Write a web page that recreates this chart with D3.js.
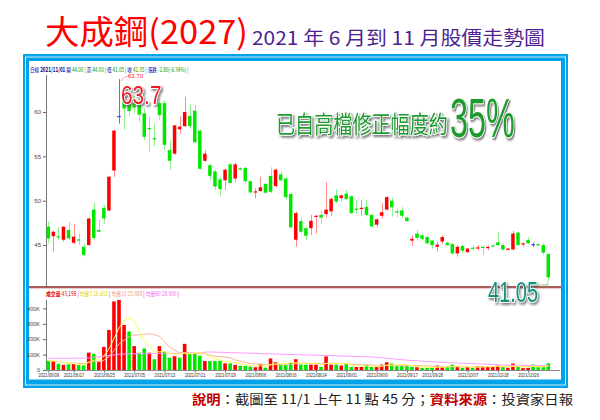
<!DOCTYPE html>
<html><head><meta charset="utf-8">
<script src="https://cdn.jsdelivr.net/npm/d3@7"></script>
<style>html,body{margin:0;padding:0;background:#fff;} svg{display:block;}</style>
</head><body><svg id="c" width="600" height="420"></svg>
<script>
// ---------- data ----------
const opens = [47.07,46.0,46.0,45.6,46.7,45.26,45.64,44.8,45.0,49.0, 46.7,49.2,48.9,53.4,59.55,61.4,60.9,61.0,60.9,59.85, 58.2,57.05,61.0,61.0,55.7,55.3,58.05,58.4,59.55,60.15, 57.9,54.5,54.0,53.3,52.4,52.3,54.1,52.5,53.65,53.7, 52.2,51.0,51.1,51.9,52.8,51.65,52.97,52.5,50.75,45.6, 47.7,46.9,46.9,48.2,48.4,48.5,48.8,50.6,50.3,50.8, 50.5,49.1,49.1,49.3,48.4,47.3,48.3,49.0,50.0,48.8, 48.9,48.1,45.5,46.3,46.1,45.9,45.5,44.8,45.4,45.26, 45.1,44.06,44.9,44.2,44.7,44.6,44.8,44.65,44.96,45.3, 45.0,44.5,44.5,46.4,45.1,45.56,45.1,45.1,45.0,44.0];
const highs = [47.63,46.6,47.1,47.1,47.6,47.4,46.3,45.2,48.1,49.8, 47.9,49.5,52.8,58.0,63.7,62.5,61.4,61.8,61.4,60.4, 59.5,58.7,61.5,61.35,56.8,58.5,59.5,61.7,60.8,60.8, 58.0,55.7,54.2,53.5,52.7,53.65,54.3,54.3,53.75,53.85, 52.3,51.4,52.7,52.0,53.76,53.6,53.3,52.7,50.85,48.8, 48.1,47.1,48.4,48.4,48.9,52.1,50.4,51.3,50.7,51.2, 50.6,50.1,50.1,50.1,48.5,48.0,49.7,50.5,50.3,49.1, 49.3,48.2,46.1,46.7,46.3,46.1,45.6,45.3,46.1,45.4, 45.2,45.0,45.0,44.7,44.9,45.0,44.9,45.0,45.1,46.5, 45.2,44.7,46.6,46.5,45.3,45.9,45.3,45.15,45.2,44.0];
const lows = [45.19,44.25,45.55,45.4,45.55,45.1,45.0,43.7,44.9,45.6, 46.4,47.4,48.8,52.7,58.7,58.0,59.5,59.9,58.9,56.8, 55.5,56.1,59.1,55.7,53.5,55.2,57.5,58.3,58.1,56.5, 53.5,54.4,52.3,51.2,50.45,51.2,51.95,52.1,53.4,51.95, 50.8,50.26,51.0,50.8,50.85,51.5,52.1,50.15,46.9,44.8, 46.3,45.56,46.1,46.3,47.4,48.1,48.25,49.7,49.9,50.1, 48.5,48.5,48.3,48.2,47.0,47.0,48.0,48.9,48.2,48.2, 48.0,47.6,44.9,45.5,45.5,45.1,44.6,44.3,45.1,44.9, 43.9,43.7,44.1,44.1,44.5,44.4,43.9,44.4,44.8,44.9, 44.35,44.4,44.4,44.9,44.8,45.1,44.8,44.9,43.9,41.05];
const closes = [45.75,46.5,45.95,47.07,45.75,45.94,45.5,43.9,48.0,45.8, 46.5,48.0,52.7,57.9,59.55,60.4,60.1,60.5,59.7,57.2, 58.15,57.0,59.66,56.3,54.5,58.5,58.35,60.0,58.4,56.6, 53.6,55.3,52.8,51.6,51.3,53.5,52.0,54.1,53.5,52.2, 50.94,51.05,51.5,50.9,51.0,53.5,52.3,50.4,47.0,48.6, 46.5,46.05,47.74,48.3,48.1,49.0,50.2,49.9,50.6,50.2, 48.6,49.0,49.2,48.4,47.1,47.9,48.7,50.4,49.25,48.7, 48.3,47.7,45.7,45.8,45.7,45.2,45.0,45.05,45.9,45.0, 44.06,44.8,44.36,44.6,44.58,44.74,44.75,44.78,44.9,45.0, 44.5,44.6,46.3,45.0,45.2,45.2,45.1,45.0,44.15,41.35];
// volume in thousands
const volumes = [60,58,40,33,37,38,33,30,113,105, 54,150,260,445,455,292,250,155,112,140, 112,70,155,120,80,90,80,170,104,108, 93,58,58,58,60,43,43,33,27,27, 22,18,40,15,75,50,33,33,48,70, 35,35,35,35,20,88,35,35,29,42, 20,20,20,31,20,20,35,50,42,25, 25,25,20,18,14,14,14,29,20,25, 35,20,14,18,14,25,25,25,20,29, 20,14,42,20,12,14,35,20,20,43.2];
// 60-day average volume line as drawn
const ma60 = [76,76,76,76,76,77,77,77,78,82, 86,90,94,98,102,104,105,105,106,106, 106,107,107,107,108,108,108,109,109,110, 110,116,117,116,115,114,113,112,111,110, 109,108,107,106,105,104,103,102,101,100, 99,98,97,96,95,94,93,92,91,90, 89,88,87,86,85,82,79,76,73,70, 67,64,62,60,58,56,54,52,50,48, 47,45,44,43,41,40,38,37,35,34, 32,31,31,30,30,29,29,29,29,28.9];
const tickLabels = ["2021/06/09","2021/06/17","2021/06/25","2021/07/05","2021/07/13","2021/07/21","2021/07/29","2021/08/06","2021/08/16","2021/08/24","2021/09/01","2021/09/09","2021/09/17","2021/09/28","2021/10/07","2021/10/18","2021/10/26"];
const tickIndex = [0,5,11,17,23,29,35,41,47,53,59,65,71,76,83,89,95];
const priceTicks = [45,50,55,60];
const volTicks = [0,100,200,300,400];

// ---------- drawing ----------
const svg = d3.select("#c");
const defs = svg.append("defs");
const f = defs.append("filter").attr("id","sh").attr("x","-10%").attr("y","-20%").attr("width","130%").attr("height","150%");
f.append("feDropShadow").attr("dx",2).attr("dy",2).attr("stdDeviation",1.2).attr("flood-color","#555").attr("flood-opacity",0.75);

const CJK = "'Noto Sans CJK TC','Noto Sans CJK SC',sans-serif";
const LAT = "'Liberation Sans',Arial,sans-serif";

// titles
svg.append("text").attr("x",45).attr("y",44).attr("font-family",CJK).attr("font-size",33)
  .attr("fill","#ff0000").attr("textLength",203).attr("lengthAdjust","spacingAndGlyphs").text("大成鋼(2027)");
svg.append("text").attr("x",252).attr("y",45).attr("font-family",CJK).attr("font-size",19)
  .attr("fill","#4e1f8f").attr("textLength",293).attr("lengthAdjust","spacingAndGlyphs").text("2021 年 6 月到 11 月股價走勢圖");

// frame
svg.append("rect").attr("x",23).attr("y",54).attr("width",545).attr("height",334).attr("fill","#00a3e8");
svg.append("rect").attr("x",25.5).attr("y",57).attr("width",540).attr("height",328).attr("fill","none").attr("stroke","#ffffff").attr("stroke-width",0.8);
svg.append("rect").attr("x",29).attr("y",61).attr("width",532).attr("height",318.5).attr("fill","#ffffff");

// scales
const x = d3.scaleLinear().domain([0, closes.length-1]).range([48.3, 548.3]);
const yP = d3.scaleLinear().domain([40.27, 65.75]).range([287, 61]);
const yV = d3.scaleLinear().domain([0, 400]).range([370, 308.4]);

// top info line (horizontally condensed)
const info = svg.append("g").attr("transform","translate(30,71.5) scale(0.74,1)")
  .append("text").attr("x",0).attr("y",0).attr("font-family",CJK).attr("font-size",6.2);
const infoParts = [["日線  ","#0000dd"],["2021/11/01 ","#000080"],["開 ","#0000aa"],["44.00 | ","#009a00"],["高 ","#0000aa"],["44.00 | ","#009a00"],["低 ","#0000aa"],["41.05 | ","#009a00"],["收 ","#0000aa"],["41.35 | ","#009a00"],["漲跌 ","#0000aa"],["-2.80(-6.34%) |","#009a00"]];
infoParts.forEach(p => info.append("tspan").attr("fill",p[1]).attr("font-weight", p[1]==="#000080"?"bold":"normal").text(p[0]));

// price axis
const pAx = svg.append("g").attr("transform","translate(46,0)")
  .call(d3.axisLeft(yP).tickValues(priceTicks).tickSize(3).tickFormat(d3.format("d")));
pAx.select(".domain").remove();
pAx.selectAll("text").attr("font-family",LAT).attr("font-size",6).attr("fill","#444").attr("dx",1);
pAx.selectAll("line").attr("stroke","#666");
svg.append("line").attr("x1",46.5).attr("x2",46.5).attr("y1",75).attr("y2",287).attr("stroke","#777").attr("stroke-width",1);

// candles
const idx = d3.range(closes.length);
const col = i => closes[i] > opens[i] ? "up" : (closes[i] < opens[i] ? "down" : "flat");
const bodyCol = {up:"#ff0000", down:"#00e800", flat:"#3a3aff"};
const wickCol = {up:"#ff8c8c", down:"#8ef08e", flat:"#6a6aff"};
const cg = svg.append("g");
cg.selectAll("line.w").data(idx).join("line")
  .attr("x1", i => Math.round(x(i))+0.5).attr("x2", i => Math.round(x(i))+0.5)
  .attr("y1", i => yP(highs[i])).attr("y2", i => yP(lows[i]))
  .attr("stroke", i => wickCol[col(i)]).attr("stroke-width",1);
cg.selectAll("rect.b").data(idx).join("rect")
  .attr("x", i => x(i)-1.75).attr("width",3.5)
  .attr("y", i => yP(Math.max(opens[i],closes[i])))
  .attr("height", i => Math.max(1.2, Math.abs(yP(opens[i])-yP(closes[i]))))
  .attr("fill", i => bodyCol[col(i)]);

// pane separator
svg.append("line").attr("x1",29).attr("x2",561).attr("y1",287).attr("y2",287).attr("stroke","#8e2424").attr("stroke-width",1.6);
svg.append("line").attr("x1",29).attr("x2",561).attr("y1",288.5).attr("y2",288.5).attr("stroke","#d8a8a8").attr("stroke-width",0.6);

// volume header (horizontally condensed)
const vh = svg.append("g").attr("transform","translate(46,295.5) scale(0.78,1)")
  .append("text").attr("x",0).attr("y",0).attr("font-family",CJK).attr("font-size",6.2);
[["成交量 ","#e00000"],["43,198 | ","#e00000"],["均量5 ","#e8d800"],["28,602 ","#e8d800"],["| ","#e00000"],["均量10 ","#f0a080"],["25,088 ","#f0a080"],["| ","#e00000"],["均量60 ","#f070f0"],["28,900 ","#f070f0"],["|","#e00000"]]
  .forEach(p => vh.append("tspan").attr("fill",p[1]).attr("font-weight", p[0].startsWith("成")?"bold":"normal").text(p[0]));

// volume axis
const vAx = svg.append("g").attr("transform","translate(46,0)")
  .call(d3.axisLeft(yV).tickValues(volTicks).tickSize(3).tickFormat(d => d===0 ? "0" : d+"K"));
vAx.select(".domain").remove();
vAx.selectAll("text").attr("font-family",LAT).attr("font-size",5.5).attr("fill","#444");
vAx.selectAll("line").attr("stroke","#666");
svg.append("line").attr("x1",46.5).attr("x2",46.5).attr("y1",300).attr("y2",370).attr("stroke","#777");

// volume bars (colour by change of close)
const vUp = i => i === 0 ? closes[0] >= opens[0] : closes[i] >= closes[i-1];
svg.append("g").selectAll("rect").data(idx).join("rect")
  .attr("x", i => x(i)-1.8).attr("width",3.6)
  .attr("y", i => yV(volumes[i])).attr("height", i => yV(0)-yV(volumes[i]))
  .attr("fill", i => vUp(i) ? "#ff0000" : "#00e800");

// moving averages
const maN = n => idx.map(i => d3.mean(volumes.slice(Math.max(0,i-n+1), i+1)));
const ma5 = maN(5), ma10 = maN(10);
const ln = arr => d3.line().x((d,i)=>x(i)).y(d=>yV(d))(arr);
svg.append("path").attr("d",ln(ma60)).attr("fill","none").attr("stroke","#ff9cff").attr("stroke-width",1);
svg.append("path").attr("d",ln(ma10)).attr("fill","none").attr("stroke","#f8b89a").attr("stroke-width",1);
svg.append("path").attr("d",ln(ma5)).attr("fill","none").attr("stroke","#ffff50").attr("stroke-width",1);

// date axis
const dAx = svg.append("g").attr("transform","translate(0,370)")
  .call(d3.axisBottom(x).tickValues(tickIndex).tickSize(2.5).tickFormat((d,i)=>tickLabels[i]));
dAx.select(".domain").remove();
svg.append("line").attr("x1",46).attr("x2",560).attr("y1",370.5).attr("y2",370.5).attr("stroke","#888");
dAx.selectAll("line").attr("stroke","#666");
dAx.selectAll("text").attr("font-family",LAT).attr("font-size",5.2).attr("fill","#333").attr("dy","0.3em")
  .attr("transform","scale(0.8,1)");

// shadowed, condensed annotation text helper
function bigText(tx, ty, sx, size, family, fill, str){
  svg.append("g").attr("transform",`translate(${tx},${ty}) scale(${sx},1)`)
    .append("text").attr("x",0).attr("y",0).attr("font-family",family).attr("font-size",size)
    .attr("fill",fill).attr("stroke","#fff").attr("stroke-width",2).attr("paint-order","stroke")
    .attr("stroke-linejoin","round").attr("filter","url(#sh)").text(str);
}

// annotations
const hiI = highs.indexOf(d3.max(highs));
svg.append("path").attr("d",`M${x(hiI)+2},${yP(highs[hiI])+2} q3,-5 8,-5`).attr("fill","none").attr("stroke","#ff6060").attr("stroke-width",0.6);
svg.append("text").attr("x",x(hiI)+9).attr("y",yP(highs[hiI])-1).attr("font-family",LAT).attr("font-size",6).attr("fill","#ff2020").text(d3.format(".2f")(highs[hiI]));
bigText(121, 103.5, 0.8, 26, LAT, "#ee1c24", d3.format(".1f")(highs[hiI]));
bigText(276, 133, 0.796, 24, CJK, "#1e9b2e", "已自高檔修正幅度約");
bigText(450, 137, 0.59, 55, LAT, "#1e9b2e", "35%");

const loI = lows.indexOf(d3.min(lows));
svg.append("path").attr("d",`M${x(loI)},${yP(lows[loI])} q0,5 -5,5`).attr("fill","none").attr("stroke","#60d060").attr("stroke-width",0.6);
svg.append("text").attr("x",540).attr("y",yP(lows[loI])+6.5).attr("font-family",LAT).attr("font-size",3.6).attr("fill","#40b040").text(d3.format(".2f")(lows[loI]));
bigText(488, 302, 0.667, 30, LAT, "#14907a", d3.format(".2f")(lows[loI]));

// caption
const cap = svg.append("text").attr("x",192).attr("y",404).attr("font-family",CJK).attr("font-size",13)
  .attr("textLength",381).attr("lengthAdjust","spacingAndGlyphs");
[["說明","#c00000","bold"],["：截圖至 11/1 上午 11 點 45 分；","#222","normal"],["資料來源","#c00000","bold"],["：投資家日報","#222","normal"]]
  .forEach(p => cap.append("tspan").attr("fill",p[1]).attr("font-weight",p[2]).text(p[0]));
</script></body></html>
